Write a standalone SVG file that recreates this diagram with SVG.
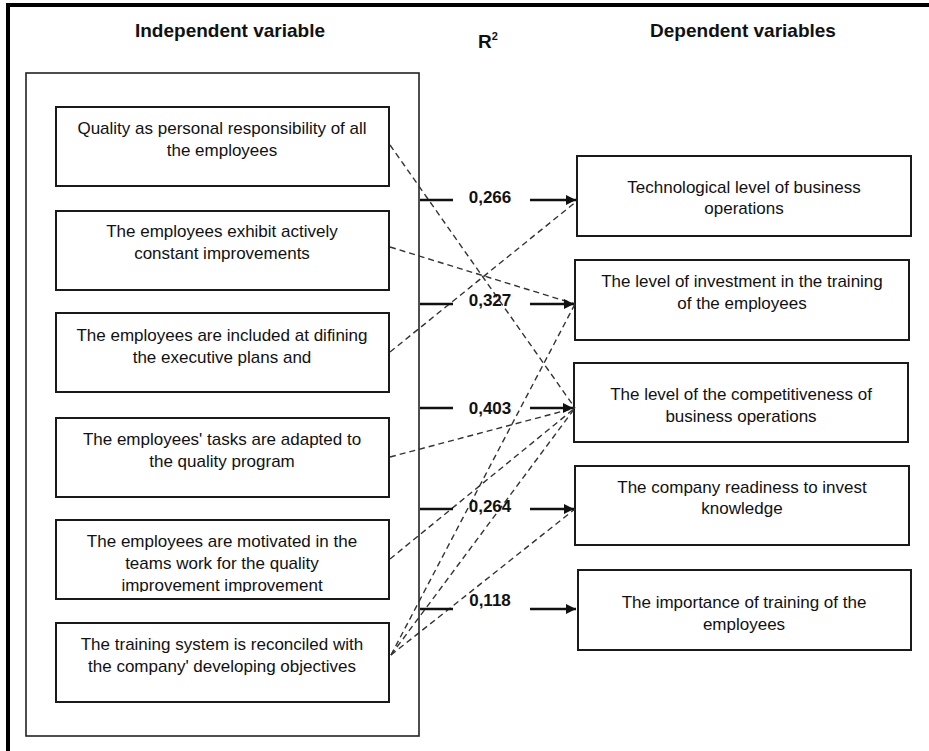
<svg xmlns="http://www.w3.org/2000/svg" width="929" height="751" viewBox="0 0 929 751">
<style>
.bg{fill:#fff}
.box{fill:#fff;stroke:#1a1a1a;stroke-width:2}
.frame{fill:none;stroke:#222;stroke-width:1.6}
.t{font-family:"Liberation Sans",Arial,sans-serif;font-size:17px;fill:#111;text-anchor:middle}
.h{font-family:"Liberation Sans",Arial,sans-serif;font-size:19px;font-weight:bold;fill:#111;text-anchor:middle}
.v{font-family:"Liberation Sans",Arial,sans-serif;font-size:17px;font-weight:bold;fill:#111;text-anchor:middle}
.solid{stroke:#111;stroke-width:2.5;fill:none}
.dash{stroke:#333;stroke-width:1.4;stroke-dasharray:6 4;fill:none}
</style>
<defs>
<marker id="ah" viewBox="0 0 10 10" refX="10" refY="5" markerWidth="4.6" markerHeight="4" markerUnits="strokeWidth" orient="auto">
<path d="M0,0 L10,5 L0,10 z" fill="#111"/>
</marker>
<clipPath id="clip5"><rect x="56" y="520" width="334" height="72"/></clipPath>
</defs>
<rect class="bg" x="0" y="0" width="929" height="751"/>
<path d="M8,751 V5 H929" fill="none" stroke="#000" stroke-width="4"/>

<g id="headers">
<text class="h" x="230" y="37">Independent variable</text>
<text class="h" x="488" y="48">R<tspan font-size="11" dy="-8">2</tspan></text>
<text class="h" x="743" y="37">Dependent variables</text>
</g>

<rect id="frame" class="frame" x="26" y="73" width="393" height="663"/>

<g id="iv1"><rect class="box" x="56" y="107" width="333" height="79"/>
<text class="t" x="222" y="134">Quality as personal responsibility of all</text>
<text class="t" x="222" y="156">the employees</text></g>

<g id="iv2"><rect class="box" x="56" y="211" width="333" height="79"/>
<text class="t" x="222" y="237">The employees exhibit actively</text>
<text class="t" x="222" y="259">constant improvements</text></g>

<g id="iv3"><rect class="box" x="56" y="313" width="333" height="79"/>
<text class="t" x="222" y="341">The employees are included at difining</text>
<text class="t" x="222" y="363">the executive plans and</text></g>

<g id="iv4"><rect class="box" x="56" y="418" width="333" height="79"/>
<text class="t" x="222" y="445">The employees' tasks are adapted to</text>
<text class="t" x="222" y="467">the quality program</text></g>

<g id="iv5"><rect class="box" x="56" y="520" width="333" height="79"/>
<text class="t" x="222" y="547">The employees are motivated in the</text>
<text class="t" x="222" y="569">teams work for the quality</text>
<text class="t" x="222" y="591" clip-path="url(#clip5)">improvement improvement</text></g>

<g id="iv6"><rect class="box" x="56" y="623" width="333" height="79"/>
<text class="t" x="222" y="650">The training system is reconciled with</text>
<text class="t" x="222" y="672">the company' developing objectives</text></g>

<g id="dv1"><rect class="box" x="577" y="156" width="334" height="80"/>
<text class="t" x="744" y="193">Technological level of business</text>
<text class="t" x="744" y="214">operations</text></g>

<g id="dv2"><rect class="box" x="575" y="260" width="334" height="80"/>
<text class="t" x="742" y="287">The level of investment in the training</text>
<text class="t" x="742" y="309">of the employees</text></g>

<g id="dv3"><rect class="box" x="574" y="363" width="334" height="79"/>
<text class="t" x="741" y="400">The level of the competitiveness of</text>
<text class="t" x="741" y="422">business operations</text></g>

<g id="dv4"><rect class="box" x="575" y="466" width="334" height="79"/>
<text class="t" x="742" y="493">The company readiness to invest</text>
<text class="t" x="742" y="514">knowledge</text></g>

<g id="dv5"><rect class="box" x="578" y="570" width="333" height="80"/>
<text class="t" x="744" y="608">The importance of training of the</text>
<text class="t" x="744" y="630">employees</text></g>

<g id="connectors">
<path class="dash" d="M390,145 L575,408"/>
<path class="dash" d="M390,247 L575,304"/>
<path class="dash" d="M390,352 L577,201"/>
<path class="dash" d="M390,457 L575,408"/>
<path class="dash" d="M390,559 L575,408"/>
<path class="dash" d="M391,655 L575,304"/>
<path class="dash" d="M391,655 L575,408"/>
<path class="dash" d="M391,655 L575,509"/>

<path class="solid" d="M420,200 H453"/>
<path class="solid" d="M530,200 H576" marker-end="url(#ah)"/>
<path class="solid" d="M420,304 H453"/>
<path class="solid" d="M530,304 H574" marker-end="url(#ah)"/>
<path class="solid" d="M420,408 H453"/>
<path class="solid" d="M530,408 H573" marker-end="url(#ah)"/>
<path class="solid" d="M420,509 H453"/>
<path class="solid" d="M530,509 H574" marker-end="url(#ah)"/>
<path class="solid" d="M420,609 H453"/>
<path class="solid" d="M530,609 H576" marker-end="url(#ah)"/>

<text class="v" x="490" y="203">0,266</text>
<text class="v" x="490" y="306">0,327</text>
<text class="v" x="490" y="414">0,403</text>
<text class="v" x="490" y="512">0,264</text>
<text class="v" x="490" y="606">0,118</text>
</g>
</svg>
